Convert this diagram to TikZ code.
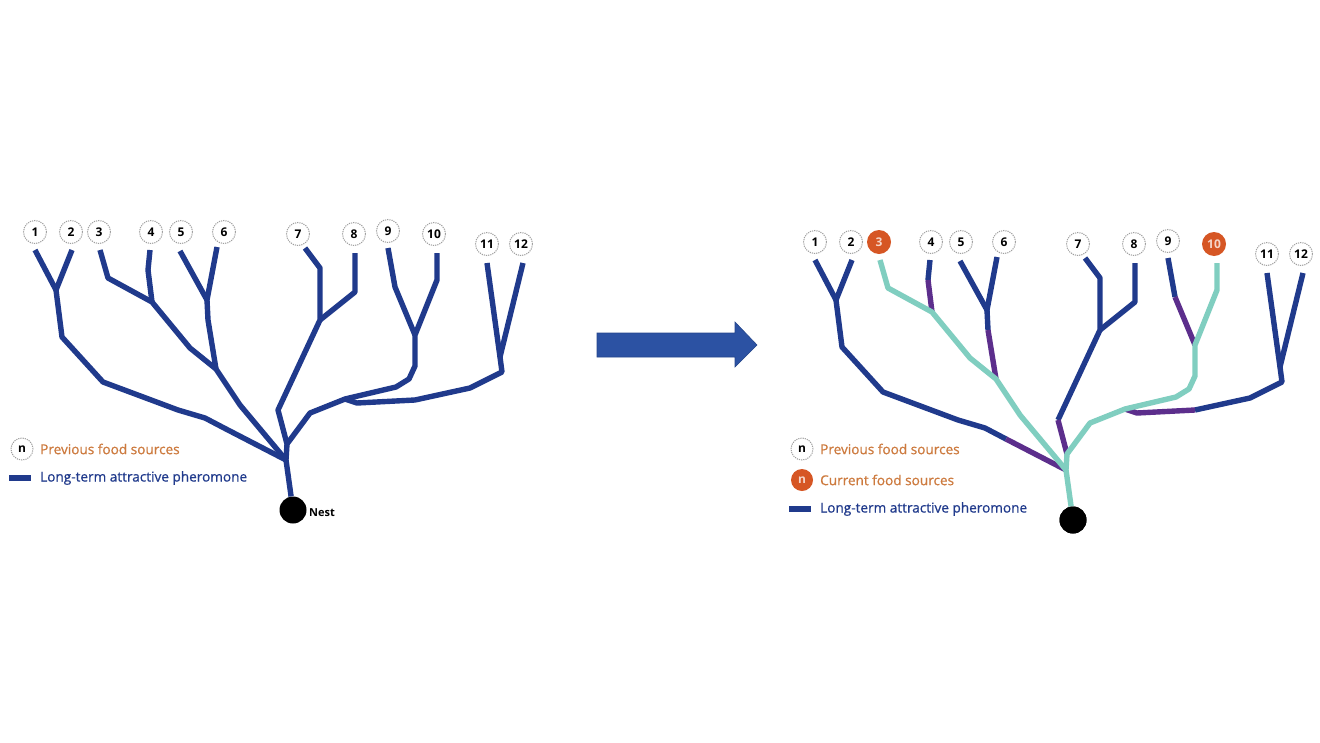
\documentclass[tikz,border=0pt]{standalone}
\usepackage{fontspec}
\setmainfont{Open Sans}
\newfontfamily\legfont[FakeBold=0.7]{Open Sans}
\definecolor{navy}{RGB}{32,58,140}
\definecolor{teal2}{RGB}{128,206,192}
\definecolor{purp}{RGB}{92,46,140}
\definecolor{otext}{RGB}{205,122,62}
\definecolor{ofill}{RGB}{214,86,36}
\definecolor{arrowblue}{RGB}{44,82,163}
\tikzset{
 br/.style={draw=navy, line width=5.4pt, line join=round},
 tq/.style={draw=teal2, line width=5.4pt, line join=round},
 pu/.style={draw=purp, line width=5.4pt, line join=round},
 src/.style={circle, draw=gray!75, densely dashed, dash pattern=on 1.2pt off 1pt, line width=1pt, fill=white, minimum size=23pt, inner sep=0pt, font=\bfseries\fontsize{12}{12}\selectfont},
 cur/.style={circle, fill=ofill, minimum size=24pt, inner sep=0pt, text=white!75!ofill, font=\bfseries\fontsize{12}{12}\selectfont},
 nestdot/.style={circle, fill=black, minimum size=27pt, inner sep=0pt},
 legtxt/.style={anchor=west, font=\legfont\fontsize{13.6}{15}\selectfont, inner sep=0pt},
 nesttxt/.style={anchor=west, font=\bfseries\fontsize{11}{12}\selectfont, inner sep=0pt},
}
% #1 prefix, #2 style of source 3, #3 style of source 10
\newcommand\treenodes[3]{%
 \node[src] (#1n1) at (35,232) {1};
 \node[src] (#1n2) at (71,232) {2};
 \node[#2] (#1n3) at (99,232) {3};
 \node[src] (#1n4) at (151,232) {4};
 \node[src] (#1n5) at (181,232) {5};
 \node[src] (#1n6) at (224,232) {6};
 \node[src] (#1n7) at (298,234) {7};
 \node[src] (#1n8) at (354,234) {8};
 \node[src] (#1n9) at (388,231) {9};
 \node[#3] (#1n10) at (434,234) {10};
 \node[src] (#1n11) at (487,244) {11};
 \node[src] (#1n12) at (521,244) {12};
 \node[nestdot] (#1nest) at (293,510) {};
 \coordinate (#1a1) at (35,250);
 \coordinate (#1a2) at (72,250);
 \coordinate (#1j12) at (56,290);
 \coordinate (#1b1) at (62,337);
 \coordinate (#1b2) at (103,382);
 \coordinate (#1b3) at (178,410);
 \coordinate (#1b4) at (205,418);
 \coordinate (#1b5) at (226,429);
 \coordinate (#1j0) at (286,460);
 \coordinate (#1a3) at (100,250);
 \coordinate (#1k3) at (108,278);
 \coordinate (#1j34) at (152,302);
 \coordinate (#1a4) at (150,250);
 \coordinate (#1k4) at (148,270);
 \coordinate (#1m1) at (190,348);
 \coordinate (#1j56m) at (216,369);
 \coordinate (#1m2) at (240,405);
 \coordinate (#1a5) at (180,251);
 \coordinate (#1a6) at (217,247);
 \coordinate (#1j56) at (207,300);
 \coordinate (#1k56) at (208,320);
 \coordinate (#1a7) at (305,248);
 \coordinate (#1k7) at (320,268);
 \coordinate (#1j78) at (320,320);
 \coordinate (#1a8) at (355,253);
 \coordinate (#1k8) at (355,292);
 \coordinate (#1km) at (278,410);
 \coordinate (#1jm) at (287,444);
 \coordinate (#1r1) at (310,413);
 \coordinate (#1r2) at (345,399);
 \coordinate (#1a9) at (388,248);
 \coordinate (#1k9) at (395,287);
 \coordinate (#1j910) at (415,335);
 \coordinate (#1a10) at (437,253);
 \coordinate (#1k10) at (437,280);
 \coordinate (#1q1) at (415,366);
 \coordinate (#1q2) at (409,379);
 \coordinate (#1q3) at (396,387);
 \coordinate (#1a11) at (487,263);
 \coordinate (#1a12) at (523,263);
 \coordinate (#1j1112) at (500,357);
 \coordinate (#1p1) at (502,372);
 \coordinate (#1p2) at (470,388);
 \coordinate (#1p3) at (415,400);
 \coordinate (#1p4) at (357,403);
}
\begin{document}
\begin{tikzpicture}[x=1pt,y=-1pt]
\useasboundingbox (0,0) rectangle (1320,742);
\fill[white] (0,0) rectangle (1320,742);

% ---------- left tree ----------
\treenodes{L}{src}{src}
\draw[br] (La1) -- (Lj12);
\draw[br] (La2) -- (Lj12) -- (Lb1) -- (Lb2) -- (Lb3) -- (Lb4) -- (Lb5) -- (Lj0);
\draw[br] (La3) -- (Lk3) -- (Lj34) -- (Lm1) -- (Lj56m) -- (Lm2) -- (Lj0);
\draw[br] (La4) -- (Lk4) -- (Lj34);
\draw[br] (La5) -- (Lj56);
\draw[br] (La6) -- (Lj56) -- (Lk56) -- (Lj56m);
\draw[br] (La7) -- (Lk7) -- (Lj78) -- (Lkm) -- (Ljm);
\draw[br] (La8) -- (Lk8) -- (Lj78);
\draw[br] (La9) -- (Lk9) -- (Lj910);
\draw[br] (La10) -- (Lk10) -- (Lj910) -- (Lq1) -- (Lq2) -- (Lq3) -- (Lr2) -- (Lr1) -- (Ljm) -- (Lj0) -- (Lnest);
\draw[br] (La11) -- (Lj1112);
\draw[br] (La12) -- (Lj1112) -- (Lp1) -- (Lp2) -- (Lp3) -- (Lp4) -- (Lr2);
\node[nesttxt] (Lnestlbl) at (309,513) {Nest};

% left legend
\node[src, minimum size=22pt] (Llegc) at (22,449) {n};
\node[legtxt, text=otext] (Llegt1) at (40,449) {Previous food sources};
\coordinate (Llegl1) at (9,478);
\coordinate (Llegl2) at (31,478);
\draw[navy, line width=6pt] (Llegl1) -- (Llegl2);
\node[legtxt, text=navy] (Llegt2) at (40,478) {Long-term attractive pheromone};

% ---------- arrow ----------
\fill[arrowblue, draw=arrowblue!85!black, line width=0.6pt]
  (597,333) -- (735,333) -- (735,322) -- (757,345) -- (735,367) -- (735,357) -- (597,357) -- cycle;

% ---------- right tree ----------
\begin{scope}[shift={(780,10)}]
\treenodes{R}{cur}{cur}
% navy parts
\draw[br] (Ra1) -- (Rj12);
\draw[br] (Ra2) -- (Rj12) -- (Rb1) -- (Rb2) -- (Rb3) -- (Rb4) -- (Rb5);
\draw[br] (Ra4) -- (Rk4);
\draw[br] (Ra5) -- (Rj56);
\draw[br] (Ra6) -- (Rj56) -- (Rk56);
\draw[br] (Ra7) -- (Rk7) -- (Rj78) -- (Rkm);
\draw[br] (Ra8) -- (Rk8) -- (Rj78);
\draw[br] (Ra9) -- (Rk9);
\draw[br] (Ra11) -- (Rj1112);
\draw[br] (Ra12) -- (Rj1112) -- (Rp1) -- (Rp2) -- (Rp3);
% purple parts
\draw[pu] (Rk4) -- (Rj34);
\draw[pu] (Rk56) -- (Rj56m);
\draw[pu] (Rb5) -- (Rj0);
\draw[pu] (Rkm) -- (Rjm);
\draw[pu] (Rk9) -- (Rj910);
\draw[pu] (Rp3) -- (Rp4) -- (Rr2);
% teal parts
\draw[tq] (Ra3) -- (Rk3) -- (Rj34) -- (Rm1) -- (Rj56m) -- (Rm2) -- (Rj0);
\draw[tq] (Ra10) -- (Rk10) -- (Rj910) -- (Rq1) -- (Rq2) -- (Rq3) -- (Rr2) -- (Rr1) -- (Rjm) -- (Rj0) -- (Rnest);
\node[nestdot] at (Rnest) {};
\end{scope}

% right legend
\node[src, minimum size=22pt] (Rlegc1) at (802,449) {n};
\node[legtxt, text=otext] (Rlegt1) at (820,449) {Previous food sources};
\node[cur, minimum size=22pt] (Rlegc2) at (802,480) {n};
\node[legtxt, text=otext] (Rlegt2) at (820,480) {Current food sources};
\coordinate (Rlegl1) at (789,509);
\coordinate (Rlegl2) at (811,509);
\draw[navy, line width=6pt] (Rlegl1) -- (Rlegl2);
\node[legtxt, text=navy] (Rlegt3) at (820,509) {Long-term attractive pheromone};
\end{tikzpicture}
\end{document}
